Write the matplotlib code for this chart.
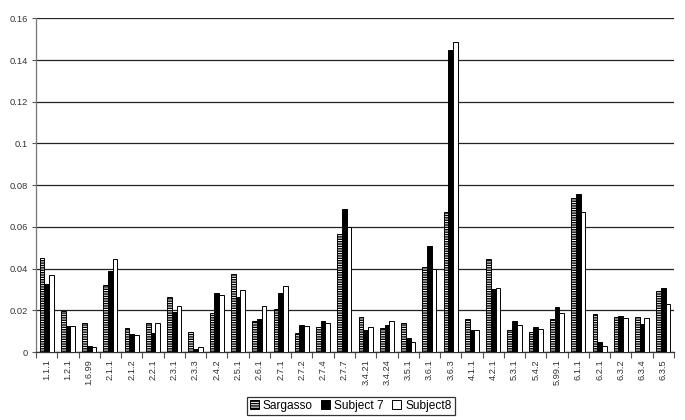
import matplotlib
matplotlib.use("Agg")
import matplotlib.pyplot as plt
import numpy as np

categories = ["1.1.1", "1.2.1", "1.6.99", "2.1.1", "2.1.2", "2.2.1", "2.3.1", "2.3.3",
              "2.4.2", "2.5.1", "2.6.1", "2.7.1", "2.7.2", "2.7.4", "2.7.7", "3.4.21",
              "3.4.24", "3.5.1", "3.6.1", "3.6.3", "4.1.1", "4.2.1", "5.3.1", "5.4.2",
              "5.99.1", "6.1.1", "6.2.1", "6.3.2", "6.3.4", "6.3.5"]

sargasso = [0.0450, 0.0198, 0.0138, 0.0322, 0.0114, 0.0138, 0.0266, 0.0096,
            0.0187, 0.0376, 0.0150, 0.0205, 0.0093, 0.0118, 0.0565, 0.0166,
            0.0114, 0.0138, 0.0408, 0.0672, 0.0160, 0.0446, 0.0106, 0.0096,
            0.0157, 0.0738, 0.0184, 0.0166, 0.0166, 0.0293]
subject7 = [0.0328, 0.0123, 0.0029, 0.0386, 0.0085, 0.0091, 0.0192, 0.0013,
            0.0282, 0.0262, 0.0160, 0.0282, 0.0130, 0.0147, 0.0685, 0.0106,
            0.0128, 0.0066, 0.0510, 0.1448, 0.0106, 0.0302, 0.0150, 0.0120,
            0.0214, 0.0758, 0.0046, 0.0171, 0.0136, 0.0309]
subject8 = [0.0368, 0.0123, 0.0022, 0.0446, 0.0080, 0.0138, 0.0219, 0.0022,
            0.0272, 0.0296, 0.0219, 0.0318, 0.0123, 0.0139, 0.0597, 0.0118,
            0.0147, 0.0050, 0.0400, 0.1487, 0.0104, 0.0309, 0.0130, 0.0109,
            0.0189, 0.0669, 0.0029, 0.0163, 0.0163, 0.0229]
series_names = ["Sargasso", "Subject 7", "Subject8"]
y_ticks = [0, 0.02, 0.04, 0.06, 0.08, 0.1, 0.12, 0.14, 0.16]
y_tick_labels = ["0", "0.02", "0.04", "0.06", "0.08", "0.1", "0.12", "0.14", "0.16"]

plt.rcParams['font.family'] = ['Liberation Sans', 'DejaVu Sans']
plt.rcParams['hatch.linewidth'] = 1.0

fig = plt.figure(figsize=(6.85, 4.2), dpi=100)
ax = fig.add_axes([36/685, 1-352/420, (674-36)/685, (352-18.3)/420])

x = np.arange(len(categories))
w = 0.22
ax.bar(x - w, sargasso, w, facecolor='white', edgecolor='black', hatch='-'*7,
       linewidth=0.7, label=series_names[0], zorder=3)
ax.bar(x, subject7, w, facecolor='black', edgecolor='black',
       linewidth=0.7, label=series_names[1], zorder=3)
ax.bar(x + w, subject8, w, facecolor='white', edgecolor='black',
       linewidth=0.7, label=series_names[2], zorder=3)

ax.set_xlim(-0.5, len(categories) - 0.5)
ax.set_ylim(0, 0.16)
ax.set_yticks(y_ticks)
ax.set_yticklabels(y_tick_labels)
ax.yaxis.grid(True, color='#222222', linewidth=0.9, zorder=0)
ax.set_axisbelow(True)

ax.set_xticks(x)
ax.set_xticklabels(categories, rotation=90)
ax.set_xticks(np.arange(len(categories) + 1) - 0.5, minor=True)
ax.tick_params(axis='x', which='major', length=0, pad=5, labelsize=6.7, labelcolor='#333333')
ax.tick_params(axis='x', which='minor', length=4, width=0.8, direction='out', color='#555555')
ax.tick_params(axis='y', length=3, width=0.8, direction='out', pad=3, labelsize=6.7,
               labelcolor='#333333', color='#555555')

for s in ['top', 'right']:
    ax.spines[s].set_visible(False)
ax.spines['left'].set_color('#777777')
ax.spines['left'].set_linewidth(0.9)
ax.spines['bottom'].set_color('#333333')
ax.spines['bottom'].set_linewidth(0.9)

leg = fig.legend(loc='lower center', bbox_to_anchor=(0.512, 0.012), ncol=3, frameon=True,
                 fancybox=False, edgecolor='black', fontsize=8.6, handlelength=0.75,
                 handleheight=0.75, handletextpad=0.35, columnspacing=0.7,
                 borderpad=0.25, borderaxespad=0.0)
leg.get_frame().set_linewidth(0.9)

fig.savefig('out.png', dpi=100)
